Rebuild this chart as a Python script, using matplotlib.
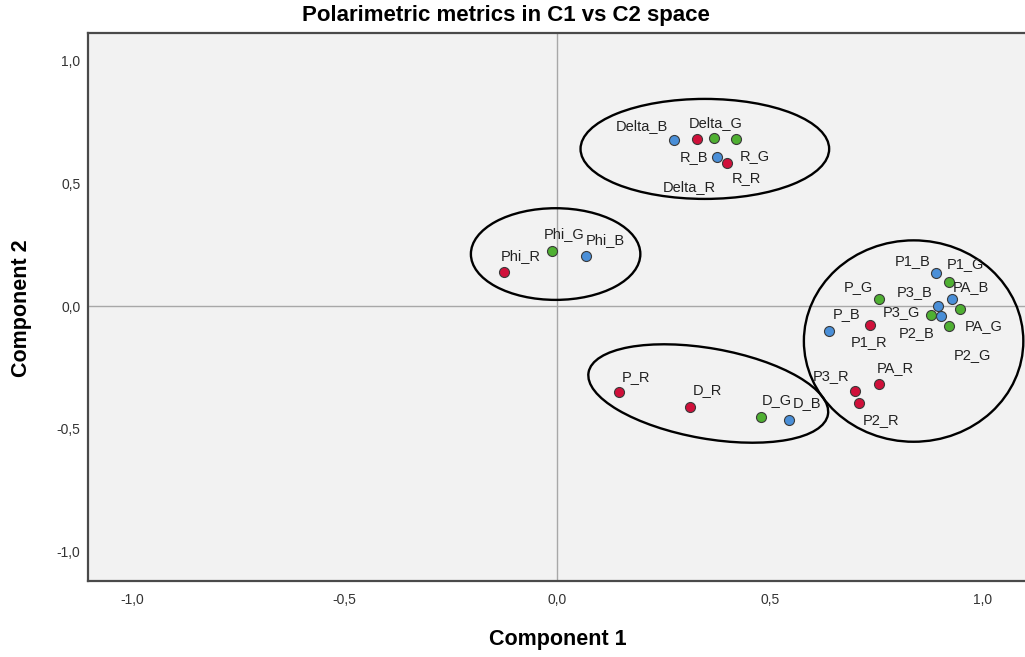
import matplotlib
matplotlib.use("Agg")
import matplotlib.pyplot as plt
import matplotlib.transforms as mtransforms
from matplotlib.patches import Ellipse
from matplotlib import font_manager

# ---- data: component loadings per metric and colour channel ----
metrics = ["Delta", "R", "Phi", "P1", "PA", "P3", "P2", "P", "D"]

red_c1 = [0.329, 0.400, -0.125, 0.736, 0.756, 0.700, 0.709, 0.146, 0.313]
red_c2 = [0.682, 0.584, 0.138, -0.078, -0.320, -0.346, -0.397, -0.352, -0.411]

green_c1 = [0.369, 0.421, -0.013, 0.921, 0.948, 0.878, 0.921, 0.756, 0.478]
green_c2 = [0.686, 0.682, 0.224, 0.099, -0.013, -0.037, -0.082, 0.027, -0.452]

blue_c1 = [0.275, 0.376, 0.068, 0.891, 0.928, 0.896, 0.903, 0.640, 0.544]
blue_c2 = [0.678, 0.608, 0.205, 0.133, 0.027, 0.001, -0.041, -0.102, -0.465]

channels = ["R", "G", "B"]
x_ticks = [-1.0, -0.5, 0.0, 0.5, 1.0]
y_ticks = [-1.0, -0.5, 0.0, 0.5, 1.0]

# ---- styling ----
available = {f.name for f in font_manager.fontManager.ttflist}
base_font = "Liberation Sans" if "Liberation Sans" in available else "DejaVu Sans"
head_font = "Liberation Sans Narrow" if "Liberation Sans Narrow" in available else base_font
plt.rcParams["font.family"] = [base_font, "DejaVu Sans"]

colors = {"R": "#d0103a", "G": "#4fb032", "B": "#4a8fd8"}
series = {
    "R": (red_c1, red_c2),
    "G": (green_c1, green_c2),
    "B": (blue_c1, blue_c2),
}

# label offsets (points) from each marker
label_offset = {
    "Delta_B": (-23, 10), "Delta_R": (-6, -35), "Delta_G": (1, 11),
    "R_G": (13, -12), "R_B": (-17, 0), "R_R": (14, -11),
    "Phi_R": (12, 12), "Phi_G": (9, 12), "Phi_B": (14, 11),
    "P1_B": (-17, 9), "P1_G": (12, 13), "PA_B": (14, 9), "P3_B": (-17, 10),
    "PA_G": (17, -12), "P3_G": (-21, 2), "P2_B": (-18, -12), "P2_G": (17, -21),
    "P_G": (-15, 9), "P1_R": (-1, -12), "P_B": (12, 12),
    "PA_R": (12, 12), "P3_R": (-17, 11), "P2_R": (16, -12),
    "P_R": (12, 11), "D_R": (12, 12), "D_G": (12, 12), "D_B": (13, 12),
}

# group outlines: centre (data), width/height (points), tilt (deg)
groups = [
    ((0.347, 0.641), 179, 72, 0),
    ((-0.004, 0.212), 122, 66, 0),
    ((0.838, -0.143), 158, 145, 0),
    ((0.355, -0.357), 175, 65, -10),
]

fig = plt.figure(figsize=(10.25, 6.57), dpi=100)
ax = fig.add_axes([87.5 / 1025, 1 - 580.5 / 657, 1 - 87.5 / 1025, 548 / 657])
ax.set_facecolor("#f2f2f2")
ax.set_xlim(-1.105, 1.1)
ax.set_ylim(-1.12, 1.116)

ax.axhline(0, color="#a8a8a8", lw=1.0, zorder=1)
ax.axvline(0, color="#a8a8a8", lw=1.0, zorder=1)

for side in ("left", "bottom", "top"):
    ax.spines[side].set_color("#4a4a4a")
    ax.spines[side].set_linewidth(1.6)
ax.spines["right"].set_visible(False)

ax.set_xticks(x_ticks)
ax.set_yticks(y_ticks)
ax.set_xticklabels([f"{v:.1f}".replace(".", ",") for v in x_ticks])
ax.set_yticklabels([f"{v:.1f}".replace(".", ",") for v in y_ticks])
ax.tick_params(axis="both", length=0, labelsize=10, colors="#333333")
ax.tick_params(axis="x", pad=9)
ax.tick_params(axis="y", pad=5)

for ch in channels:
    xs, ys = series[ch]
    ax.scatter(xs, ys, s=52, color=colors[ch], edgecolor="#3a3a3a",
               linewidth=0.8, zorder=3)
    for m, x, y in zip(metrics, xs, ys):
        name = f"{m}_{ch}"
        ax.annotate(name, (x, y), xytext=label_offset[name],
                    textcoords="offset points", ha="center", va="center",
                    fontsize=10.5, color="#222222", zorder=4)

for (cx, cy), w, h, ang in groups:
    tr = (mtransforms.Affine2D().scale(fig.dpi / 72.0)
          + mtransforms.ScaledTranslation(cx, cy, ax.transData))
    ax.add_patch(Ellipse((0, 0), w, h, angle=ang, transform=tr,
                         fill=False, edgecolor="black", lw=1.7, zorder=2))

fig.text(506 / 1025, 1 - 16 / 657, "Polarimetric metrics in C1 vs C2 space",
         ha="center", va="center", fontsize=16, fontweight="bold",
         family=[head_font, "DejaVu Sans"])
fig.text(558 / 1025, 1 - 640 / 657, "Component 1", ha="center", va="center",
         fontsize=15.5, fontweight="bold", family=[head_font, "DejaVu Sans"])
fig.text(22 / 1025, 1 - 308 / 657, "Component 2", ha="center", va="center",
         rotation=90, fontsize=15.5, fontweight="bold",
         family=[head_font, "DejaVu Sans"])

fig.savefig("out.png", dpi=100)
